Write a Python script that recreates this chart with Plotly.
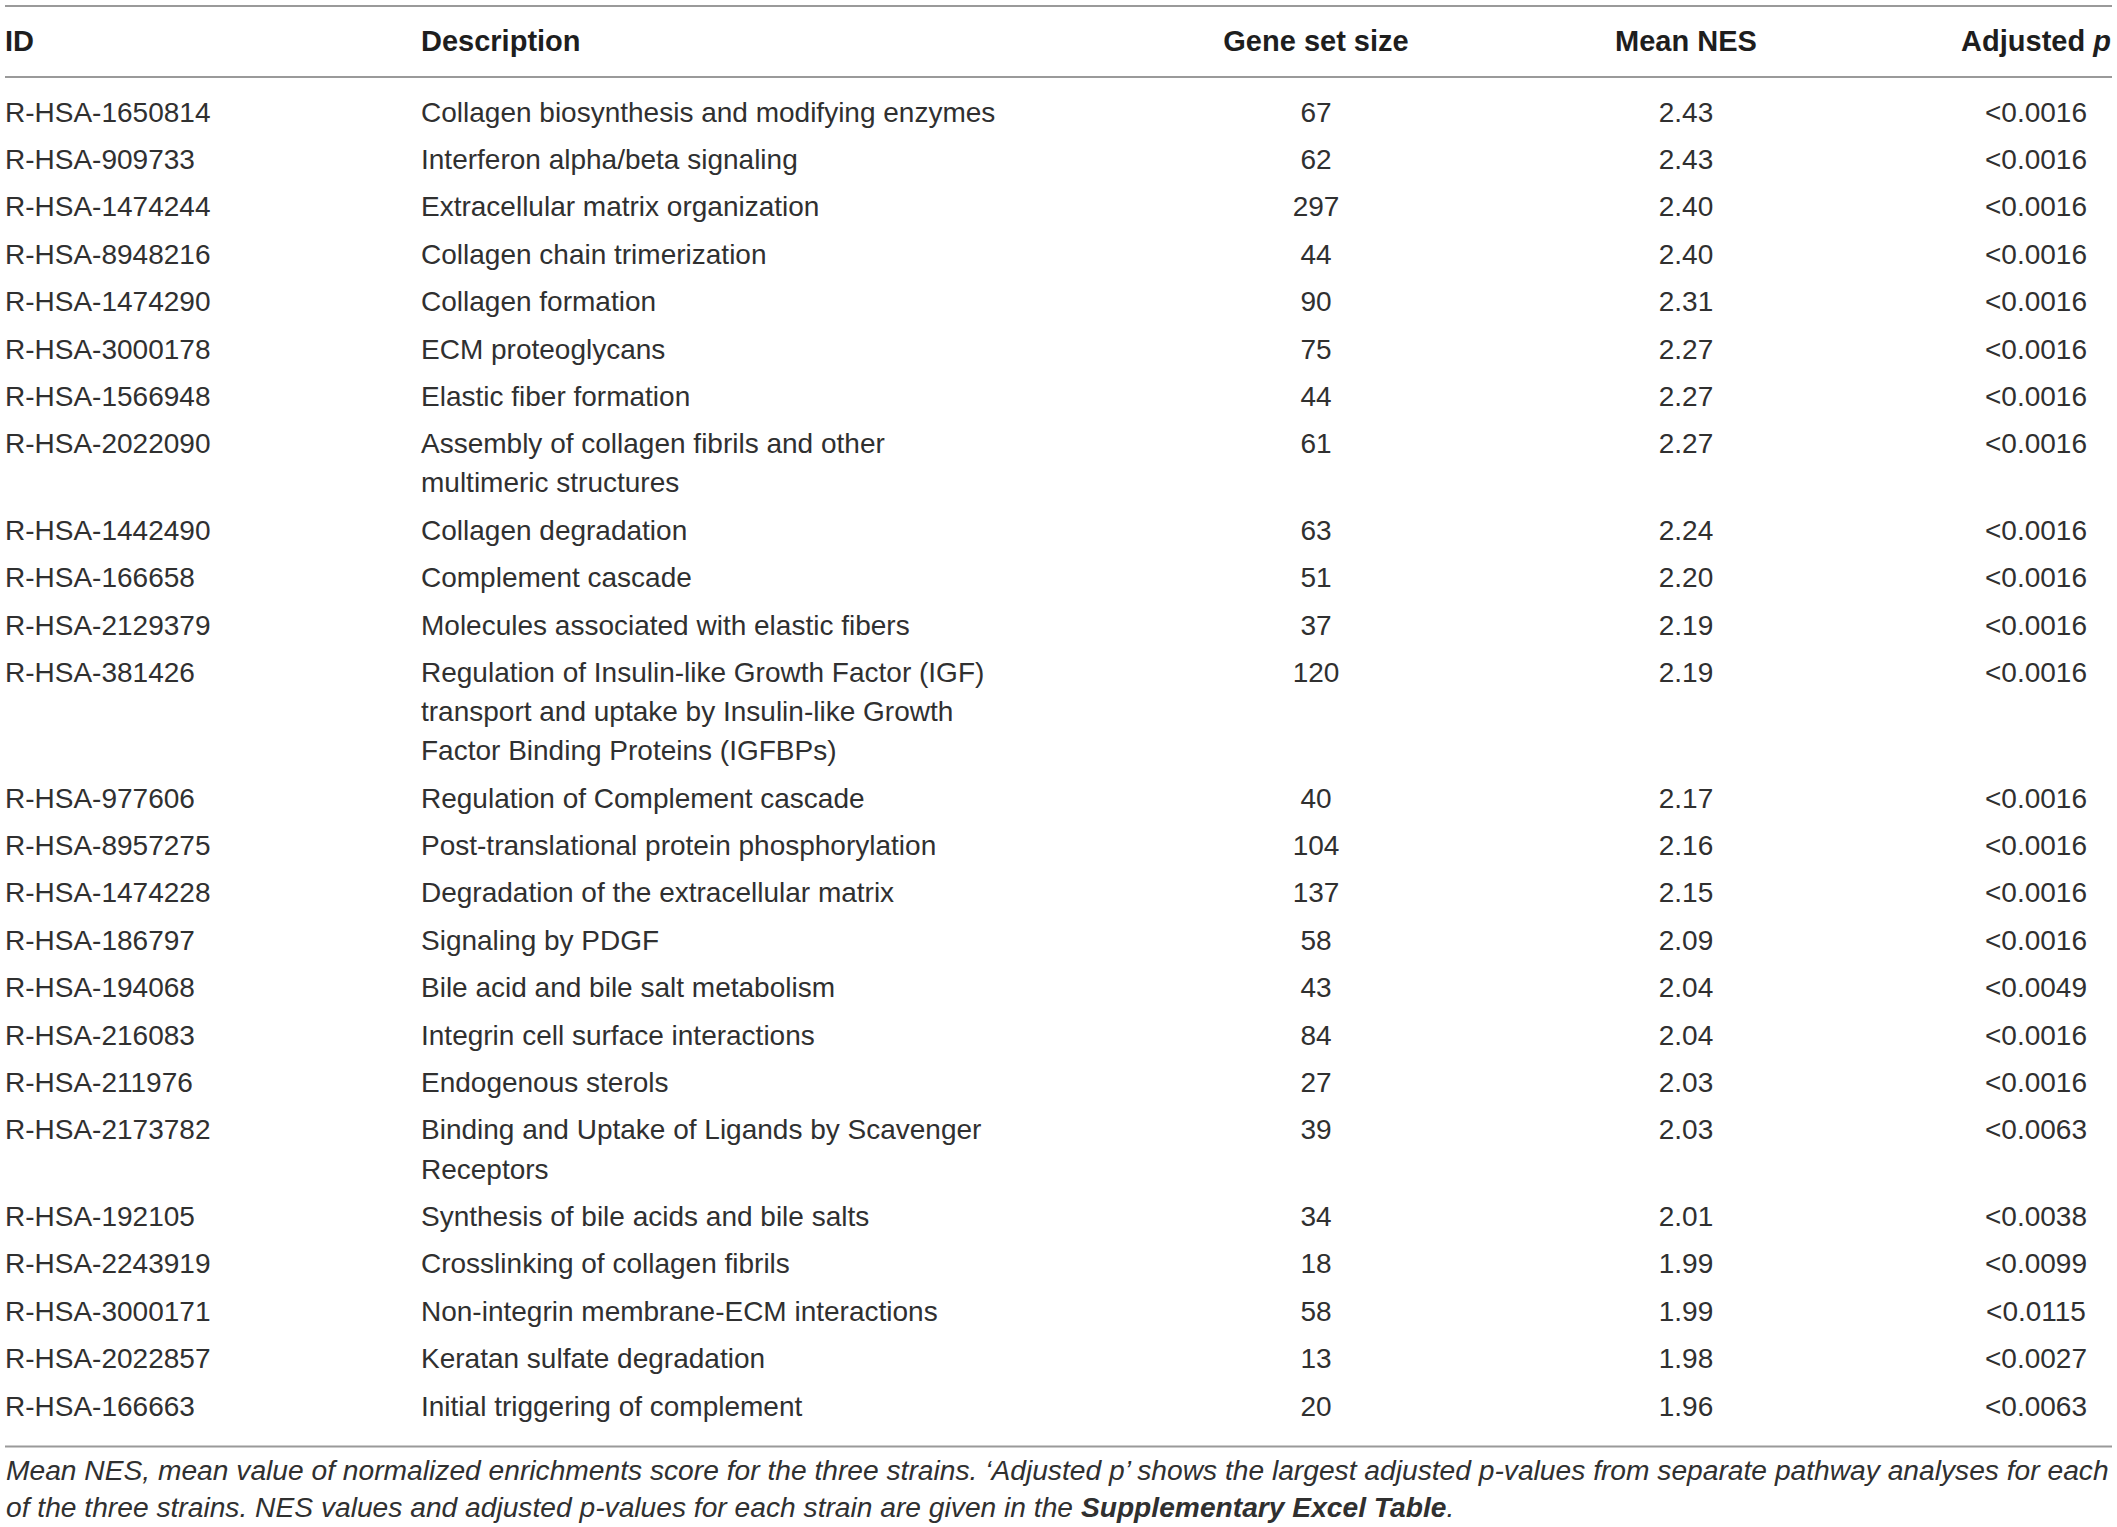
import plotly.graph_objects as go

# table content
ids = [
    "R-HSA-1650814", "R-HSA-909733", "R-HSA-1474244", "R-HSA-8948216", "R-HSA-1474290",
    "R-HSA-3000178", "R-HSA-1566948", "R-HSA-2022090", "R-HSA-1442490", "R-HSA-166658",
    "R-HSA-2129379", "R-HSA-381426", "R-HSA-977606", "R-HSA-8957275", "R-HSA-1474228",
    "R-HSA-186797", "R-HSA-194068", "R-HSA-216083", "R-HSA-211976", "R-HSA-2173782",
    "R-HSA-192105", "R-HSA-2243919", "R-HSA-3000171", "R-HSA-2022857", "R-HSA-166663",
]
descriptions = [
    "Collagen biosynthesis and modifying enzymes",
    "Interferon alpha/beta signaling",
    "Extracellular matrix organization",
    "Collagen chain trimerization",
    "Collagen formation",
    "ECM proteoglycans",
    "Elastic fiber formation",
    "Assembly of collagen fibrils and other<br>multimeric structures",
    "Collagen degradation",
    "Complement cascade",
    "Molecules associated with elastic fibers",
    "Regulation of Insulin-like Growth Factor (IGF)<br>transport and uptake by Insulin-like Growth<br>Factor Binding Proteins (IGFBPs)",
    "Regulation of Complement cascade",
    "Post-translational protein phosphorylation",
    "Degradation of the extracellular matrix",
    "Signaling by PDGF",
    "Bile acid and bile salt metabolism",
    "Integrin cell surface interactions",
    "Endogenous sterols",
    "Binding and Uptake of Ligands by Scavenger<br>Receptors",
    "Synthesis of bile acids and bile salts",
    "Crosslinking of collagen fibrils",
    "Non-integrin membrane-ECM interactions",
    "Keratan sulfate degradation",
    "Initial triggering of complement",
]
gene_set_size = [67, 62, 297, 44, 90, 75, 44, 61, 63, 51, 37, 120, 40, 104, 137,
                 58, 43, 84, 27, 39, 34, 18, 58, 13, 20]
mean_nes = [2.43, 2.43, 2.40, 2.40, 2.31, 2.27, 2.27, 2.27, 2.24, 2.20, 2.19, 2.19, 2.17,
            2.16, 2.15, 2.09, 2.04, 2.04, 2.03, 2.03, 2.01, 1.99, 1.99, 1.98, 1.96]
adjusted_p = ["<0.0016"] * 16 + ["<0.0049", "<0.0016", "<0.0016", "<0.0063",
                                 "<0.0038", "<0.0099", "<0.0115", "<0.0027", "<0.0063"]
headers = ["ID", "Description", "Gene set size", "Mean NES", "Adjusted <i>p</i>"]
caption = (
    "<i>Mean NES, mean value of normalized enrichments score for the three strains. "
    "‘Adjusted p’ shows the largest adjusted p-values from separate pathway analyses for each<br>"
    "of the three strains. NES values and adjusted p-values for each strain are given in the "
    "<b>Supplementary Excel Table</b>.</i>"
)

W, H = 2117, 1527
FONT = "Liberation Sans"
TXT = "#303030"
RULE = "#9a9a9a"

# layout in pixel units
col_x = [5, 421, 1316, 1686, 2036]
header_y = 44
first_row = 114.5
pitch = 47.4
line_gap = 39.1

row_y = []
y = first_row
for d in descriptions:
    row_y.append(y)
    y += pitch + line_gap * d.count("<br>")

# explode wrapped descriptions into one point per line
desc_x, desc_y, desc_t = [], [], []
for yy, d in zip(row_y, descriptions):
    for k, part in enumerate(d.split("<br>")):
        desc_x.append(col_x[1])
        desc_y.append(yy + k * line_gap)
        desc_t.append(part)

body_font = dict(family=FONT, size=28, color=TXT)
head_font = dict(family=FONT, size=29, color="#1e1e1e")

fig = go.Figure()
fig.add_trace(go.Scatter(x=[col_x[0]] * len(ids), y=row_y, text=ids, mode="text",
                         textposition="middle right", textfont=body_font))
fig.add_trace(go.Scatter(x=desc_x, y=desc_y, text=desc_t, mode="text",
                         textposition="middle right", textfont=body_font))
fig.add_trace(go.Scatter(x=[col_x[2]] * len(ids), y=row_y, text=[str(v) for v in gene_set_size],
                         mode="text", textposition="middle center", textfont=body_font))
fig.add_trace(go.Scatter(x=[col_x[3]] * len(ids), y=row_y, text=[f"{v:.2f}" for v in mean_nes],
                         mode="text", textposition="middle center", textfont=body_font))
fig.add_trace(go.Scatter(x=[col_x[4]] * len(ids), y=row_y, text=adjusted_p,
                         mode="text", textposition="middle center", textfont=body_font))

# header row
fig.add_trace(go.Scatter(x=col_x[:2], y=[header_y] * 2, text=[f"<b>{h}</b>" for h in headers[:2]],
                         mode="text", textposition="middle right", textfont=head_font))
fig.add_trace(go.Scatter(x=col_x[2:], y=[header_y] * 3, text=[f"<b>{h}</b>" for h in headers[2:]],
                         mode="text", textposition="middle center", textfont=head_font))
fig.update_traces(cliponaxis=False, hoverinfo="skip")

bottom_rule = row_y[-1] + 38
for yy in [6, 77, bottom_rule]:
    fig.add_shape(type="line", x0=5, x1=2112, y0=yy, y1=yy,
                  line=dict(color=RULE, width=2))

fig.add_annotation(x=4, y=bottom_rule + 5, text=caption, showarrow=False,
                   xanchor="left", yanchor="top", align="left",
                   font=dict(family=FONT, size=28.2, color=TXT))

fig.update_xaxes(range=[0, W], visible=False, fixedrange=True)
fig.update_yaxes(range=[H, 0], visible=False, fixedrange=True)
fig.update_layout(width=W, height=H, margin=dict(l=0, r=0, t=0, b=0),
                  showlegend=False, plot_bgcolor="white", paper_bgcolor="white")

# drop the default page margin so the figure sits flush with the window
fig.write_html("out.html", config={"displayModeBar": False},
               post_script="document.body.style.margin = '0';")
